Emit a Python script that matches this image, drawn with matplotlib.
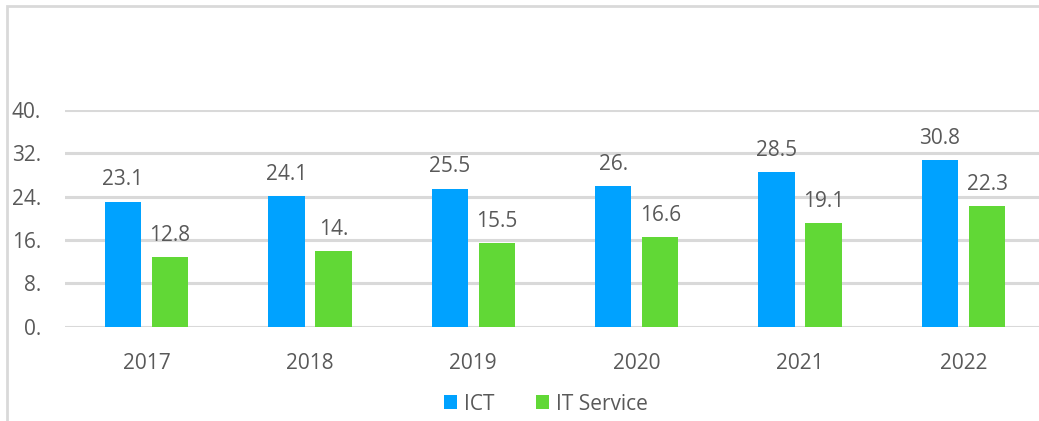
import matplotlib.pyplot as plt
import numpy as np
from matplotlib.patches import Rectangle

years = ["2017", "2018", "2019", "2020", "2021", "2022"]
ict = [23.1, 24.1, 25.5, 26.0, 28.5, 30.8]
it_service = [12.8, 14.0, 15.5, 16.6, 19.1, 22.3]
y_ticks = [0, 8, 16, 24, 32, 40]

BLUE = "#00a2ff"
GREEN = "#61d836"
TEXT = "#595959"
GRID = "#d9d9d9"

plt.rcParams['font.family'] = ['Open Sans', 'DejaVu Sans']


def fmt(v):
    # как в исходнике: у целых чисел остаётся точка
    return "%d." % v if float(v).is_integer() else "%.1f" % v


fig = plt.figure(figsize=(10.39, 4.21), dpi=100)
ax = fig.add_axes([64.8 / 1039, 94.3 / 421, 1 - 64.8 / 1039, 216.7 / 421])

x = np.arange(len(years))
off = 0.144
w = 0.223
b1 = ax.bar(x - off, ict, w, color=BLUE, label="ICT", zorder=3)
b2 = ax.bar(x + off, it_service, w, color=GREEN, label="IT Service", zorder=3)

for bars, vals in ((b1, ict), (b2, it_service)):
    for r, v in zip(bars, vals):
        ax.annotate(fmt(v), xy=(r.get_x() + r.get_width() / 2, v), xytext=(0, 8),
                    textcoords="offset points", ha="center", va="bottom",
                    fontsize=15, color=TEXT)

ax.set_xlim(-0.5, (1039 - 64.8) / 163.4 - 0.5)
ax.set_ylim(0, 40)
ax.set_yticks(y_ticks)
ax.set_yticklabels([fmt(t) for t in y_ticks])
ax.set_xticks(x)
ax.set_xticklabels(years)
ax.tick_params(axis="both", length=0, labelsize=15, labelcolor=TEXT)
ax.tick_params(axis="y", pad=17)
ax.tick_params(axis="x", pad=19)
ax.yaxis.grid(True, color=GRID, linewidth=2.2, zorder=0)
ax.set_axisbelow(True)
for s in ax.spines.values():
    s.set_visible(False)

leg = fig.legend(handles=[b1, b2], loc="center", bbox_to_anchor=(0.5255, 1 - 404 / 421),
                 ncol=2, frameon=False, fontsize=15, handlelength=0.65, handleheight=0.65,
                 handletextpad=0.35, columnspacing=1.95)
for t in leg.get_texts():
    t.set_color(TEXT)

# рамка вокруг диаграммы (обрезана справа и снизу)
fig.patches.append(Rectangle((7 / 1039, -0.1), 1.2, 1 - 6 / 421 + 0.1, transform=fig.transFigure,
                             fill=False, edgecolor=GRID, linewidth=2))

fig.savefig("out.png", dpi=100)
